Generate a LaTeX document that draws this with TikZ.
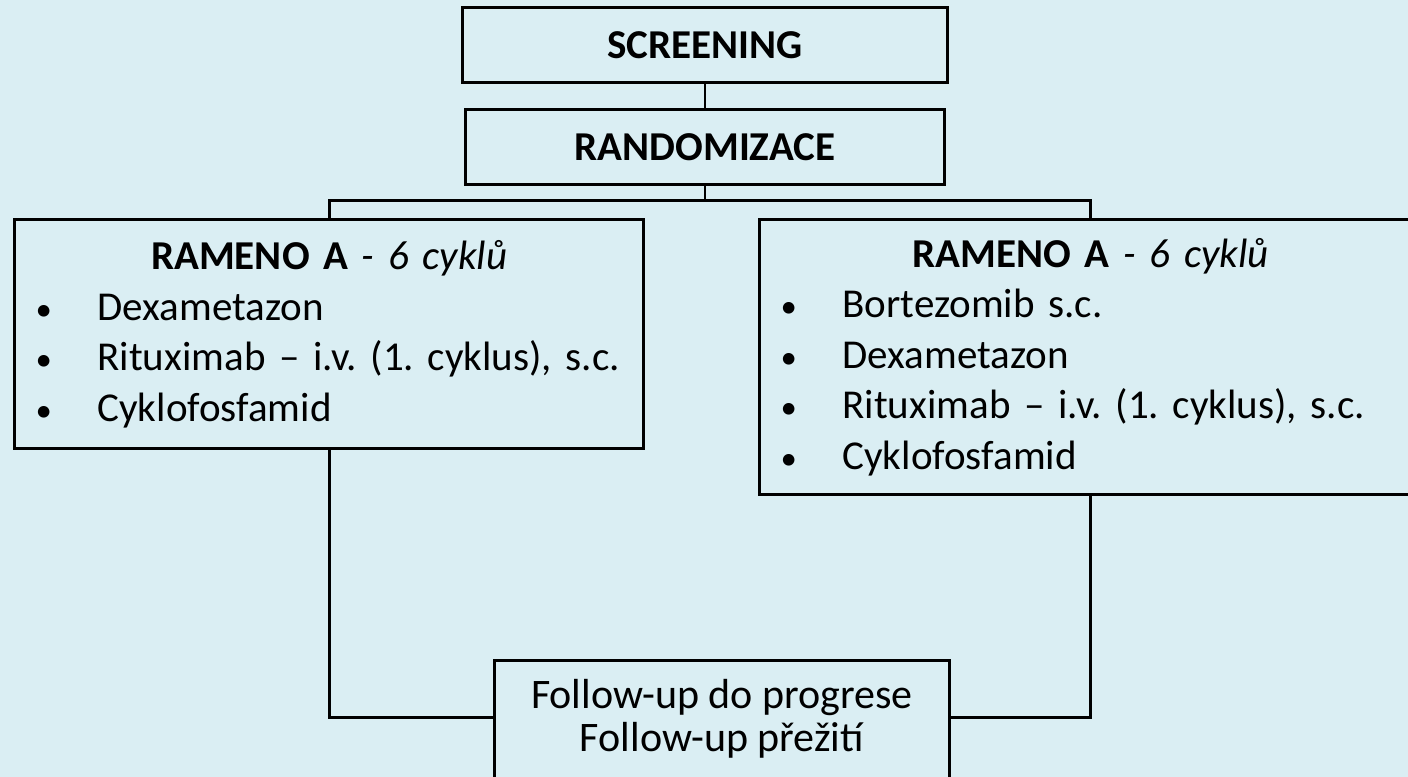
\documentclass[tikz,border=0pt]{standalone}
\usepackage{fontspec}
\setmainfont{Carlito}
\usepackage{xcolor}
\definecolor{paleblue}{HTML}{DAEEF3}
\usepackage{tikz}
\usetikzlibrary{positioning, calc}
\frenchspacing

\newcommand{\boxfont}{\fontsize{0.41cm}{0.505cm}\selectfont\spaceskip 0.23em\relax}
\tikzset{
  box/.style={draw, line width=0.85pt, fill=paleblue, rectangle, inner sep=0pt, font=\boxfont},
  armbox/.style={box, anchor=north west, text width=#1, minimum width=#1},
  link/.style={line width=0.85pt}
}
\newcommand{\bul}[1]{\par\hspace*{0.21cm}\makebox[0.62cm][l]{\scalebox{0.8}{\textbullet}}\mbox{#1}}

\begin{document}
\begin{tikzpicture}[x=0.01cm, y=-0.01cm]
  % Page and background
  \useasboundingbox (0,0) rectangle (1408,777);
  \clip (0,0) rectangle (1408,777);
  \fill[paleblue] (0,0) rectangle (1408,777);

  % Top boxes
  \node[box, minimum width=4.84cm, minimum height=0.74cm] (screen) at (705,45) {\textbf{SCREENING}};
  \node[box, minimum width=4.78cm, minimum height=0.74cm] (random) at (705,147) {\textbf{RANDOMIZACE}};

  % Treatment arms
  \node[armbox=6.29cm, minimum height=2.29cm] (armA) at (13,218) {%
    {\centering\mbox{\textbf{RAMENO A} \textit{- 6 cyklů}}\par}\raggedright
    \bul{Dexametazon}
    \bul{Rituximab – i.v. (1. cyklus), s.c.}
    \bul{Cyklofosfamid}};
  \node[armbox=6.62cm, minimum height=2.75cm] (armB) at (758,218) {%
    {\centering\mbox{\textbf{RAMENO A} \textit{- 6 cyklů}}\par}\raggedright
    \bul{Bortezomib s.c.}
    \bul{Dexametazon}
    \bul{Rituximab – i.v. (1. cyklus), s.c.}
    \bul{Cyklofosfamid}};

  % Follow-up
  \node[box, anchor=north, inner xsep=0pt, inner ysep=0.19cm, minimum width=4.55cm, align=center,
    font=\fontsize{0.42cm}{0.43cm}\selectfont] (follow) at (722,659)
    {Follow-up do progrese\\Follow-up přežití\rule[-1cm]{0pt}{0pt}};

  % Connectors
  \coordinate (split) at (705,201);
  \coordinate (meet) at (0,718);
  \draw[link] (screen) -- (random);
  \draw[link] (random) -- (split);
  \draw[link] (armA.north) |- (split) -| (armB.north);
  \draw[link] (armA.south) |- (follow.west |- meet);
  \draw[link] (armB.south) |- (follow.east |- meet);
\end{tikzpicture}
\end{document}
